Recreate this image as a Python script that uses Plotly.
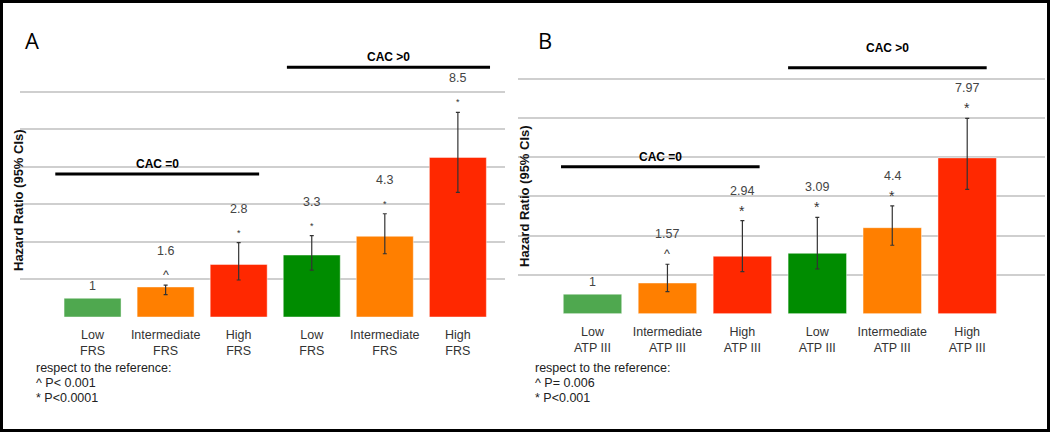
import plotly.graph_objects as go

W, H = 1050, 433

# ---------------- data ----------------
cats_a = ["Low<br>FRS", "Intermediate<br>FRS", "High<br>FRS",
          "Low<br>FRS", "Intermediate<br>FRS", "High<br>FRS"]
hr_a = [1, 1.6, 2.8, 3.3, 4.3, 8.5]
ci_low_a = [None, 1.19, 1.97, 2.50, 3.37, 6.64]
ci_high_a = [None, 1.70, 3.96, 4.33, 5.50, 10.9]
labels_a = ["1", "1.6", "2.8", "3.3", "4.3", "8.5"]
sig_a = ["", "^", "*", "*", "*", "*"]
notes_a = ["respect to the reference:", "^ P< 0.001", "* P<0.0001"]

cats_b = ["Low<br>ATP III", "Intermediate<br>ATP III", "High<br>ATP III",
          "Low<br>ATP III", "Intermediate<br>ATP III", "High<br>ATP III"]
hr_b = [1, 1.57, 2.94, 3.09, 4.4, 7.97]
ci_low_b = [None, 1.13, 2.15, 2.29, 3.50, 6.36]
ci_high_b = [None, 2.53, 4.76, 4.93, 5.52, 9.99]
labels_b = ["1", "1.57", "2.94", "3.09", "4.4", "7.97"]
sig_b = ["", "^", "*", "*", "*", "*"]
notes_b = ["respect to the reference:", "^ P= 0.006", "* P<0.001"]

group_names = ["CAC =0", "CAC >0"]
y_ticks = [0, 2, 4, 6, 8, 10, 12]

# ---------------- styling ----------------
bar_colors = ["#4fa84f", "#ff7f00", "#ff2800", "#008c00", "#ff7f00", "#ff2800"]
FONT = "Liberation Sans, Arial, sans-serif"


def px_x(p):
    return p / W


def px_y(p):
    return 1 - p / H


panels = [
    dict(cats=cats_a, hr=hr_a, lo=ci_low_a, hi=ci_high_a, labels=labels_a, sig=sig_a,
         notes=notes_a, letter="A", xa="x", ya="y",
         xdom=[px_x(20), px_x(505)], xrange=[-0.993, 5.645],
         ydom=[px_y(317), px_y(317 - 7 * 37.55)],
         brackets=[(-0.51, 2.28, 7.62, 10), (2.66, 5.44, 13.3, 10)],
         lab_off=34, star_size=9, letter_xy=(32, 40), ytitle_xy=(19, 200), note_x=34),
    dict(cats=cats_b, hr=hr_b, lo=ci_low_b, hi=ci_high_b, labels=labels_b, sig=sig_b,
         notes=notes_b, letter="B", xa="x2", ya="y2",
         xdom=[px_x(518), px_x(1045)], xrange=[-0.994, 6.038],
         ydom=[px_y(313.7), px_y(313.7 - 7 * 39.1)],
         brackets=[(-0.42, 2.23, 7.52, 10), (2.61, 5.26, 12.58, 20)],
         lab_off=30, star_size=14, letter_xy=(545, 40), ytitle_xy=(524, 196), note_x=533),
]

fig = go.Figure()
annotations = []
shapes = []

for k, p in enumerate(panels):
    n = len(p["hr"])
    xs = list(range(n))
    fig.add_trace(go.Bar(
        x=xs, y=p["hr"], width=0.78,
        marker=dict(color=bar_colors, line=dict(color="rgba(255,255,255,0.45)", width=1)),
        xaxis=p["xa"], yaxis=p["ya"], showlegend=False, hoverinfo="skip",
    ))
    # confidence intervals (only where available)
    ci_idx = [i for i in xs if p["hi"][i] is not None]
    fig.add_trace(go.Scatter(
        x=ci_idx, y=[p["hr"][i] for i in ci_idx], mode="markers",
        marker=dict(size=1, color="rgba(0,0,0,0)"),
        error_y=dict(type="data", symmetric=False,
                     array=[p["hi"][i] - p["hr"][i] for i in ci_idx],
                     arrayminus=[p["hr"][i] - p["lo"][i] for i in ci_idx],
                     color="#333333", thickness=1.2, width=2),
        xaxis=p["xa"], yaxis=p["ya"], showlegend=False, hoverinfo="skip",
    ))
    for i in range(n):
        top = p["hi"][i] if p["hi"][i] is not None else p["hr"][i]
        has_sig = p["sig"][i] != ""
        annotations.append(dict(
            x=i, y=top, xref=p["xa"], yref=p["ya"], text=p["labels"][i],
            showarrow=False, yanchor="middle", yshift=p["lab_off"] if has_sig else 12,
            font=dict(family=FONT, size=12.5, color="#444444")))
        if has_sig:
            s = p["sig"][i]
            annotations.append(dict(
                x=i, y=top, xref=p["xa"], yref=p["ya"], text=s,
                showarrow=False, yanchor="middle", yshift=10,
                font=dict(family=FONT, size=p["star_size"] if s == "*" else 12.5,
                          color="#333333")))
    # group brackets
    for (x0, x1, yv, tshift), gname in zip(p["brackets"], group_names):
        shapes.append(dict(type="line", xref=p["xa"], yref=p["ya"], x0=x0, x1=x1,
                           y0=yv, y1=yv, line=dict(color="black", width=3)))
        annotations.append(dict(x=(x0 + x1) / 2, y=yv, xref=p["xa"], yref=p["ya"],
                                text="<b>%s</b>" % gname, showarrow=False,
                                yanchor="middle", yshift=tshift,
                                font=dict(family=FONT, size=12, color="black")))
    # panel letter
    annotations.append(dict(x=px_x(p["letter_xy"][0]), y=px_y(p["letter_xy"][1]),
                            xref="paper", yref="paper", text=p["letter"], showarrow=False,
                            xanchor="center", yanchor="middle",
                            font=dict(family="Open Sans, sans-serif", size=22, color="black")))
    # y title
    annotations.append(dict(x=px_x(p["ytitle_xy"][0]), y=px_y(p["ytitle_xy"][1]),
                            xref="paper", yref="paper", text="<b>Hazard Ratio (95% CIs)</b>",
                            showarrow=False, textangle=-90, xanchor="center", yanchor="middle",
                            font=dict(family=FONT, size=13, color="#111111")))
    # notes
    for j, line in enumerate(p["notes"]):
        annotations.append(dict(x=px_x(p["note_x"]), y=px_y(368 + 15 * j),
                                xref="paper", yref="paper", text=line, showarrow=False,
                                xanchor="left", yanchor="middle",
                                font=dict(family=FONT, size=12.5, color="#222222")))

    ax_suffix = "" if k == 0 else "2"
    fig.update_layout(**{
        "xaxis" + ax_suffix: dict(domain=p["xdom"], range=p["xrange"], tickmode="array",
                                  tickvals=list(range(len(p["cats"]))), ticktext=p["cats"],
                                  showgrid=False, zeroline=False, showline=False,
                                  ticks="outside", ticklen=6, tickcolor="rgba(0,0,0,0)",
                                  tickfont=dict(family=FONT, size=12.5, color="#333333"),
                                  anchor=p["ya"], fixedrange=True),
        "yaxis" + ax_suffix: dict(domain=p["ydom"], range=[0, 14], tickmode="array",
                                  tickvals=y_ticks, showticklabels=False, showgrid=True,
                                  gridcolor="#cfcfcf", gridwidth=1.5, zeroline=False,
                                  showline=False, anchor=p["xa"], fixedrange=True),
    })

# outer frame
shapes.append(dict(type="rect", xref="paper", yref="paper",
                   x0=px_x(1.5), x1=px_x(W - 1.5), y0=px_y(H - 2.5), y1=px_y(1.5),
                   line=dict(color="black", width=3), fillcolor="rgba(0,0,0,0)"))

fig.update_layout(width=W, height=H, margin=dict(l=0, r=0, t=0, b=0),
                  paper_bgcolor="white", plot_bgcolor="white",
                  annotations=annotations, shapes=shapes, barmode="overlay")

fig.write_html("out.html", config={"displayModeBar": False},
               post_script="document.body.style.margin='0';"
                           "document.body.style.overflow='hidden';")
